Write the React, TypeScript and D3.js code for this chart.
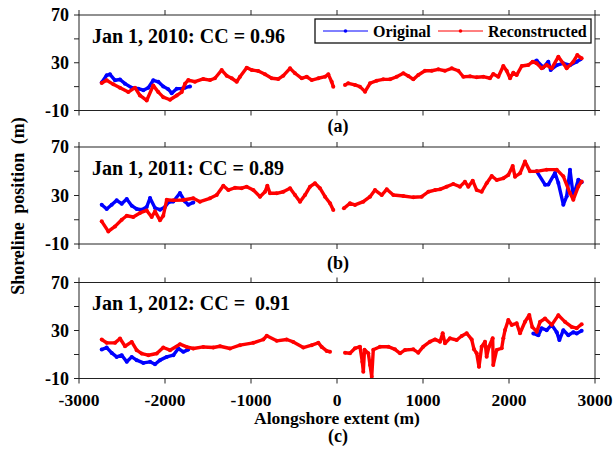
import * as d3 from 'd3'

type Pt = [number, number | null]

// alongshore position (m), shoreline position (m); null marks the data gap near 0
const xTicks = [-3000, -2000, -1000, 0, 1000, 2000, 3000]
const yTicks = [-10, 10, 30, 50, 70]
const yTickLabels = [-10, 30, 70]

const titles = ['Jan 1, 2010: CC = 0.96', 'Jan 1, 2011: CC = 0.89', 'Jan 1, 2012: CC =  0.91']
const tags = ['(a)', '(b)', '(c)']

const orig2010: Pt[] = [
  [-2736, 13.5], [-2678, 19.5], [-2640, 20.3], [-2581, 15.3], [-2523, 16], [-2465, 12.5], [-2387, 9.1],
  [-2310, 8.3], [-2252, 7], [-2194, 9.1], [-2136, 15.3], [-2078, 14], [-2020, 10.2], [-1962, 7.8],
  [-1922, 4.5], [-1864, 8.3], [-1806, 8.3], [-1767, 9.1], [-1709, 10.2],
  [20, null],
  [2276, 30.5], [2322, 31.8], [2399, 26.1], [2457, 30.9], [2485, 23.9], [2555, 28], [2632, 29.5],
  [2709, 28], [2787, 30.9], [2833, 32.9],
]

const recon2010: Pt[] = [
  [-2736, 13], [-2678, 15.3], [-2601, 11.9], [-2523, 9], [-2427, 5.4], [-2349, 9.1], [-2291, 2.6],
  [-2213, -1.6], [-2136, 11], [-2078, 5.4], [-2020, 1.2], [-1942, -1], [-1864, 2.6], [-1806, 5.4],
  [-1767, 12.5], [-1729, 15.5], [-1651, 14.1], [-1555, 16.4], [-1477, 15.5], [-1419, 17], [-1341, 23.9],
  [-1283, 19.2], [-1224, 17], [-1166, 14.1], [-1128, 18.3], [-1050, 25.9], [-992, 23.9], [-915, 23.1],
  [-837, 20.3], [-759, 17], [-683, 16.4], [-624, 19.2], [-546, 25.3], [-488, 21.2], [-410, 17],
  [-352, 18.3], [-294, 15.5], [-217, 17], [-139, 18.3], [-101, 20.3], [-62, 14.1], [-43, 10],
  [20, null],
  [93, 11.4], [131, 12.8], [209, 11.4], [267, 10], [326, 5.8], [384, 12.8], [462, 15], [538, 16.1],
  [616, 16.1], [694, 18.3], [771, 21.2], [829, 18.9], [887, 16.1], [945, 19.7], [1023, 23.3],
  [1101, 23.3], [1178, 24.5], [1256, 23.3], [1334, 25.3], [1411, 23.3], [1469, 18.3], [1547, 18.6],
  [1624, 17.8], [1701, 18.3], [1779, 17], [1817, 20.6], [1876, 18.3], [1934, 27.3], [1973, 23.3],
  [2012, 17], [2050, 21.7], [2089, 19.7], [2148, 27.3], [2225, 28.1], [2276, 30.9], [2322, 29.5],
  [2380, 25.3], [2438, 28.1], [2497, 25.3], [2574, 35.1], [2671, 25.3], [2748, 30.9], [2794, 36.5],
  [2845, 33.7],
]

const orig2011: Pt[] = [
  [-2736, 22.4], [-2678, 18.9], [-2620, 22.4], [-2562, 26], [-2503, 23.2], [-2445, 27.1], [-2387, 21.6],
  [-2329, 18.9], [-2271, 18.3], [-2213, 20.5], [-2174, 27.9], [-2116, 19.7], [-2058, 18.3], [-2000, 20.5],
  [-1962, 24.3], [-1903, 25], [-1826, 32], [-1767, 25], [-1729, 22.4], [-1671, 24.3],
  [20, null],
  [2322, 49.9], [2419, 38.9], [2457, 39], [2535, 48.6], [2574, 40.3], [2632, 22.4], [2671, 29.3],
  [2709, 51.3], [2748, 29.3], [2806, 43], [2845, 41],
]

const recon2011: Pt[] = [
  [-2736, 8.7], [-2659, 0.4], [-2581, 4.5], [-2503, 10], [-2445, 13.3], [-2369, 12.3], [-2291, 15.6],
  [-2213, 17.7], [-2155, 12.3], [-2116, 16.9], [-2058, 9.5], [-2020, 13.3], [-1980, 26.5], [-1903, 26],
  [-1787, 26.3], [-1671, 27.7], [-1593, 24.9], [-1477, 27.7], [-1399, 30.4], [-1322, 38.1],
  [-1264, 34.5], [-1186, 36.4], [-1108, 36], [-1050, 37.3], [-973, 34.5], [-895, 29], [-837, 33.1],
  [-810, 38.1], [-779, 31.8], [-701, 31.8], [-624, 33.1], [-546, 35.9], [-488, 30.4], [-430, 24.9],
  [-372, 30.4], [-314, 37.3], [-256, 40.1], [-198, 36], [-139, 29], [-81, 23.6], [-43, 18],
  [20, null],
  [80, 19.4], [151, 23.6], [209, 22.2], [306, 24.9], [384, 29], [442, 34.5], [520, 30.4], [578, 35.1],
  [655, 30.4], [771, 29.6], [887, 28.5], [985, 29], [1062, 33.1], [1140, 34.5], [1198, 35.1],
  [1275, 37.3], [1352, 39.5], [1430, 37.3], [1488, 41.4], [1527, 37.3], [1578, 42.2], [1624, 34.5],
  [1682, 33.1], [1740, 40.1], [1799, 46.1], [1857, 42.8], [1934, 44.2], [1992, 46.9], [2043, 54.3],
  [2070, 45.5], [2128, 48.3], [2186, 58.1], [2244, 49.9], [2322, 49.9], [2438, 51.3], [2555, 51.3],
  [2632, 45.8], [2709, 32], [2748, 26.5], [2806, 37.5], [2845, 41.6],
]

const orig2012: Pt[] = [
  [-2736, 14.1], [-2678, 15.8], [-2620, 11.3], [-2562, 8], [-2503, 9.4], [-2445, 3.9], [-2387, 8],
  [-2329, 5.3], [-2252, 3], [-2174, 3.9], [-2116, 1.9], [-2058, 5.3], [-1980, 8], [-1903, 9.4],
  [-1845, 15], [-1787, 12.2], [-1729, 14.1],
  [20, null],
  [2283, 27.5], [2341, 26], [2380, 31.9], [2438, 30.3], [2497, 34.7], [2555, 28.6], [2586, 22],
  [2632, 30.3], [2690, 26], [2748, 28.6], [2787, 27.5], [2845, 29.7],
]

const recon2012: Pt[] = [
  [-2736, 22.5], [-2678, 19.7], [-2581, 19.7], [-2523, 23.3], [-2465, 16.9], [-2387, 20.5], [-2329, 13.6],
  [-2271, 10.8], [-2194, 9.4], [-2096, 10.8], [-2020, 15.8], [-1942, 13.6], [-1826, 18.6], [-1748, 16.3],
  [-1671, 15], [-1555, 16.3], [-1438, 15.8], [-1360, 16.9], [-1244, 15], [-1128, 17.8], [-973, 19.7],
  [-857, 22.5], [-817, 25.6], [-701, 21.4], [-585, 22.5], [-508, 20.5], [-392, 15.8], [-294, 17.8],
  [-217, 19.7], [-178, 16.3], [-120, 13], [-81, 12.3],
  [20, null],
  [93, 11.5], [151, 11], [209, 15.2], [267, 16.5], [294, 4], [306, -4.3], [320, 14], [364, 11],
  [384, 1.3], [404, -8.5], [422, 14], [500, 16.5], [597, 16.5], [674, 14.3], [733, 11], [791, 13.8],
  [887, 14.3], [945, 11.5], [1003, 16.5], [1081, 20.7], [1140, 22.6], [1198, 20.7], [1229, 27.7],
  [1256, 19.3], [1314, 23.5], [1392, 22.1], [1450, 25.4], [1508, 27.7], [1566, 22.6], [1593, 14.3],
  [1624, 11], [1651, -0.2], [1682, 16.5], [1721, 20.7], [1740, 8.2], [1767, 16.5], [1810, 23.5],
  [1817, 1.3], [1857, 13.8], [1915, 15.2], [1934, 23.5], [1954, 30.4], [1992, 38.8], [2032, 34.6],
  [2089, 36], [2128, 27.7], [2186, 37.3], [2236, 42.9], [2270, 33], [2322, 29], [2361, 37.2],
  [2419, 40], [2497, 34.7], [2574, 42.8], [2651, 37.2], [2729, 33], [2787, 31.9], [2845, 35.3],
]

const originals = [orig2010, orig2011, orig2012]
const reconstructions = [recon2010, recon2011, recon2012]

const W = 616
const H = 452
const FONT = '"Liberation Serif", "Times New Roman", serif'
const BLUE = '#0000ff'
const RED = '#ff0000'
const TICK = 5

const panelBox = [
  { top: 15, bottom: 110.5 },
  { top: 147, bottom: 244 },
  { top: 282.5, bottom: 378.5 },
]

const x = d3.scaleLinear().domain([-3000, 3000]).range([79, 595])

function Series({ data, y, color }: { data: Pt[]; y: d3.ScaleLinear<number, number>; color: string }) {
  const line = d3.line<Pt>()
    .defined(d => d[1] !== null)
    .x(d => x(d[0]))
    .y(d => y(d[1] as number))
  return (
    <g>
      <path d={line(data) ?? ''} fill="none" stroke={color} strokeWidth={3.4} strokeLinejoin="round" />
      {data.filter(d => d[1] !== null).map((d, i) => (
        <circle key={i} cx={x(d[0])} cy={y(d[1] as number)} r={2} fill={color} />
      ))}
    </g>
  )
}

function Panel({ idx }: { idx: number }) {
  const { top, bottom } = panelBox[idx]
  const y = d3.scaleLinear().domain([-10, 70]).range([bottom, top])
  const [x0, x1] = x.range()
  const last = idx === 2
  return (
    <g>
      <Series data={originals[idx]} y={y} color={BLUE} />
      <Series data={reconstructions[idx]} y={y} color={RED} />
      <rect x={x0} y={top} width={x1 - x0} height={bottom - top} fill="none" stroke="#222" strokeWidth={1} />
      {xTicks.map(t => (
        <g key={t}>
          <line x1={x(t)} x2={x(t)} y1={top} y2={top - TICK} stroke="#222" />
          <line x1={x(t)} x2={x(t)} y1={bottom} y2={bottom + TICK} stroke="#222" />
        </g>
      ))}
      {yTicks.map(t => (
        <g key={t}>
          <line x1={x0} x2={x0 - TICK} y1={y(t)} y2={y(t)} stroke="#222" />
          <line x1={x1} x2={x1 + TICK} y1={y(t)} y2={y(t)} stroke="#222" />
        </g>
      ))}
      {yTickLabels.map(t => (
        <text key={t} x={x0 - 10} y={y(t)} dy="0.35em" textAnchor="end" fontSize={18}>{t}</text>
      ))}
      {last && xTicks.map(t => (
        <text key={t} x={x(t)} y={406} textAnchor="middle" fontSize={17.5}>{t}</text>
      ))}
      <text x={92} y={top + 27.5} fontSize={20} style={{ whiteSpace: 'pre' }}>{titles[idx]}</text>
    </g>
  )
}

export default function App() {
  const tagY = [132, 269, 442]
  return (
    <svg width={W} height={H} style={{ position: 'absolute', left: 0, top: 0, background: '#fff' }}
      fontFamily={FONT} fontWeight="bold" fill="#000">
      {[0, 1, 2].map(i => <Panel key={i} idx={i} />)}
      {tags.map((t, i) => (
        <text key={t} x={338} y={tagY[i]} textAnchor="middle" fontSize={18}>{t}</text>
      ))}
      <text x={337} y={424} textAnchor="middle" fontSize={17.5}>Alongshore extent (m)</text>
      <text transform="translate(24,206) rotate(-90)" textAnchor="middle" fontSize={18} wordSpacing={4}>
        Shoreline position (m)
      </text>
      {/* legend */}
      <g>
        <rect x={315} y={19} width={276} height={24} fill="#fff" stroke="#111" strokeWidth={1.3} />
        <line x1={323} x2={368} y1={31} y2={31} stroke={BLUE} strokeWidth={1} />
        <circle cx={345.5} cy={31} r={1.8} fill={BLUE} />
        <text x={373} y={36.5} fontSize={16}>Original</text>
        <line x1={438} x2={483} y1={31} y2={31} stroke={RED} strokeWidth={1} />
        <circle cx={460.5} cy={31} r={1.8} fill={RED} />
        <text x={488} y={36.5} fontSize={16}>Reconstructed</text>
      </g>
    </svg>
  )
}
